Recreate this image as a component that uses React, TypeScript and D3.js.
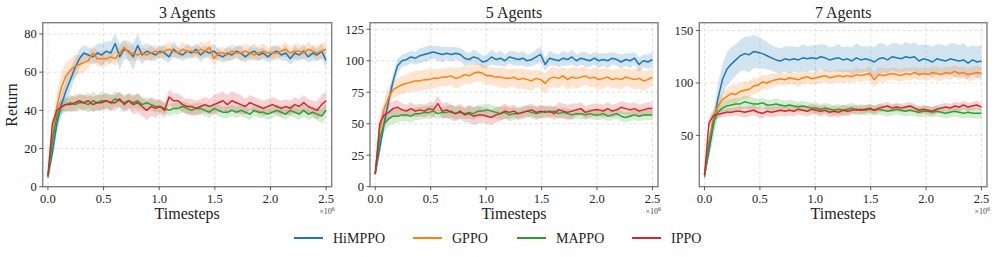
import React from 'react';
import * as d3 from 'd3';

// shared timestep grid (x in units of 1e6)
const steps = d3.range(63).map((i) => (i * 2.5) / 62);

const methods = ['HiMPPO', 'GPPO', 'MAPPO', 'IPPO'];
const colors = ['#1f77b4', '#ff7f0e', '#2ca02c', '#d62728'];
const titles = ['3 Agents', '5 Agents', '7 Agents'];
const xTicks = [0, 0.5, 1.0, 1.5, 2.0, 2.5];

// ---- 3 agents ----
const a3HiMPPO = [5, 18, 33, 43, 50, 56, 62, 67, 70, 69, 68, 70, 69, 71, 70, 75, 68, 72, 71, 68, 74, 69, 71, 70, 69, 71, 70, 68, 72, 70, 69, 71, 70, 72, 69, 71, 70, 71, 69, 68, 70, 69, 71, 70, 68, 70, 71, 69, 70, 68, 70, 71, 69, 70, 67, 70, 69, 71, 68, 70, 69, 71, 66];
const a3GPPO = [5, 26, 42, 52, 58, 61, 63, 64, 65, 66, 70, 67, 67, 67, 68, 67, 70, 73, 70, 70, 69, 70, 69, 70, 71, 70, 71, 72, 71, 70, 72, 71, 71, 70, 72, 71, 73, 67, 70, 70, 69, 71, 70, 70, 71, 70, 69, 70, 71, 70, 70, 70, 71, 72, 70, 71, 71, 70, 72, 71, 70, 71, 72];
const a3MAPPO = [5, 24, 37, 42, 43, 44, 43, 44, 44, 43, 45, 44, 45, 45, 44, 46, 45, 44, 45, 44, 45, 43, 44, 43, 42, 42, 41, 40, 41, 41, 42, 41, 40, 41, 41, 40, 39, 41, 40, 39, 39, 40, 39, 40, 39, 38, 40, 39, 39, 38, 39, 40, 39, 38, 40, 39, 38, 40, 38, 39, 38, 37, 40];
const a3IPPO = [6, 33, 40, 42, 43, 43, 44, 45, 44, 45, 43, 44, 44, 45, 44, 44, 46, 43, 45, 43, 44, 42, 40, 42, 41, 42, 40, 47, 45, 45, 43, 42, 42, 41, 42, 43, 42, 43, 44, 45, 43, 45, 44, 43, 42, 44, 43, 42, 41, 42, 43, 42, 41, 42, 41, 43, 42, 44, 42, 41, 40, 43, 45];
const a3HiMPPOStd = [1, 4, 5, 6, 6, 6, 5, 5, 4, 4, 4, 5, 6, 5, 6, 5, 7, 5, 5, 7, 6, 5, 4, 4, 3, 3, 4, 3, 4, 3, 3, 4, 3, 3, 4, 3, 3, 4, 3, 3, 4, 3, 3, 4, 3, 3, 4, 3, 3, 3, 4, 3, 3, 4, 3, 4, 3, 4, 3, 4, 3, 4, 4];
const a3GPPOStd = [1, 5, 7, 8, 7, 6, 6, 5, 5, 4, 4, 4, 4, 4, 3, 4, 4, 3, 4, 4, 3, 3, 3, 4, 3, 3, 3, 4, 3, 3, 4, 3, 3, 3, 4, 4, 4, 4, 3, 3, 3, 4, 3, 4, 4, 4, 3, 4, 4, 3, 3, 4, 3, 4, 3, 4, 4, 3, 4, 3, 4, 4, 4];
const a3MAPPOStd = [1, 4, 5, 4, 4, 4, 4, 4, 4, 4, 5, 4, 5, 4, 4, 4, 4, 4, 4, 3, 4, 3, 3, 3, 3, 3, 3, 3, 3, 3, 3, 3, 3, 3, 3, 3, 3, 3, 3, 3, 3, 3, 3, 3, 3, 3, 3, 3, 3, 3, 3, 3, 3, 3, 3, 3, 3, 3, 3, 3, 3, 4, 4];
const a3IPPOStd = [1, 3, 3, 3, 3, 4, 4, 4, 4, 4, 4, 4, 4, 4, 4, 4, 4, 4, 4, 5, 5, 5, 5, 5, 5, 4, 4, 4, 4, 4, 4, 4, 4, 4, 4, 4, 4, 5, 5, 5, 5, 5, 5, 5, 4, 4, 4, 4, 4, 4, 4, 4, 4, 4, 4, 4, 4, 4, 4, 4, 5, 5, 5];

// ---- 5 agents ----
const a5HiMPPO = [10, 30, 50, 68, 84, 96, 100, 101, 103, 102, 104, 105, 106, 107, 106, 105, 106, 105, 106, 105, 102, 101, 103, 102, 99, 100, 103, 101, 102, 100, 103, 102, 101, 102, 100, 101, 103, 105, 97, 102, 101, 100, 102, 101, 103, 100, 102, 101, 100, 102, 100, 101, 100, 102, 101, 99, 101, 100, 102, 97, 100, 99, 101];
const a5GPPO = [10, 45, 62, 71, 77, 79, 81, 82, 83, 84, 84, 85, 85, 86, 86, 87, 87, 88, 86, 87, 89, 88, 90, 91, 90, 88, 88, 87, 87, 86, 86, 87, 85, 86, 85, 84, 86, 85, 82, 86, 87, 86, 88, 85, 87, 86, 87, 88, 86, 87, 85, 86, 87, 85, 86, 85, 87, 86, 85, 86, 84, 85, 87];
const a5MAPPO = [10, 38, 50, 54, 56, 56, 57, 57, 56, 58, 58, 59, 59, 60, 58, 59, 59, 60, 58, 59, 58, 59, 58, 60, 60, 61, 60, 59, 58, 59, 57, 58, 58, 59, 60, 59, 58, 59, 60, 59, 60, 58, 59, 58, 57, 58, 58, 57, 58, 57, 57, 58, 56, 57, 58, 56, 55, 56, 57, 56, 57, 57, 57];
const a5IPPO = [10, 50, 57, 59, 62, 63, 61, 60, 62, 60, 61, 60, 62, 61, 66, 60, 61, 59, 58, 60, 57, 58, 56, 57, 57, 56, 55, 57, 58, 60, 59, 60, 58, 59, 60, 61, 59, 60, 59, 60, 58, 61, 60, 59, 60, 61, 62, 59, 60, 61, 61, 60, 62, 60, 61, 63, 62, 61, 62, 60, 61, 62, 62];
const a5HiMPPOStd = [1, 5, 6, 6, 6, 6, 5, 5, 5, 5, 6, 6, 6, 5, 6, 6, 5, 6, 5, 5, 6, 5, 6, 5, 5, 5, 6, 5, 6, 5, 5, 6, 5, 6, 5, 5, 6, 6, 5, 6, 5, 5, 6, 5, 6, 5, 5, 6, 5, 5, 6, 5, 6, 5, 5, 6, 5, 6, 5, 6, 5, 6, 6];
const a5GPPOStd = [1, 6, 8, 8, 7, 7, 7, 7, 8, 8, 8, 8, 8, 8, 7, 7, 7, 7, 8, 8, 7, 7, 7, 7, 7, 7, 7, 7, 8, 8, 7, 7, 8, 8, 8, 8, 7, 7, 8, 8, 8, 8, 7, 8, 8, 8, 8, 7, 7, 8, 8, 8, 7, 7, 8, 8, 7, 7, 8, 8, 8, 7, 7];
const a5MAPPOStd = [1, 5, 6, 6, 6, 5, 5, 5, 5, 5, 5, 5, 5, 5, 4, 4, 5, 5, 5, 5, 4, 5, 5, 5, 5, 5, 5, 5, 5, 5, 5, 5, 4, 4, 4, 5, 5, 5, 4, 4, 4, 4, 4, 4, 4, 4, 4, 4, 4, 4, 4, 4, 4, 4, 4, 4, 4, 4, 4, 4, 4, 4, 4];
const a5IPPOStd = [1, 6, 7, 7, 6, 6, 5, 5, 5, 5, 5, 5, 5, 6, 6, 6, 6, 6, 6, 6, 6, 7, 7, 7, 6, 6, 6, 6, 6, 6, 5, 5, 5, 5, 5, 5, 5, 5, 5, 5, 5, 6, 6, 6, 6, 5, 5, 5, 5, 5, 5, 5, 5, 5, 5, 5, 5, 5, 5, 5, 5, 5, 5];

// ---- 7 agents ----
const a7HiMPPO = [12, 35, 60, 85, 103, 113, 118, 122, 126, 128, 127, 130, 129, 128, 126, 124, 122, 121, 123, 122, 123, 122, 124, 123, 124, 123, 125, 124, 122, 123, 124, 122, 123, 121, 124, 122, 123, 122, 120, 123, 124, 122, 125, 124, 123, 125, 124, 125, 121, 123, 122, 120, 123, 122, 121, 123, 122, 121, 122, 119, 122, 120, 121];
const a7GPPO = [12, 45, 67, 78, 84, 87, 90, 89, 92, 93, 94, 97, 98, 101, 100, 102, 103, 104, 103, 105, 104, 103, 105, 106, 104, 105, 106, 107, 105, 106, 107, 106, 107, 106, 108, 107, 108, 109, 103, 108, 107, 108, 109, 108, 107, 109, 108, 110, 108, 109, 108, 110, 109, 108, 110, 109, 111, 109, 110, 108, 109, 110, 109];
const a7MAPPO = [10, 40, 63, 72, 76, 78, 79, 80, 80, 82, 81, 80, 80, 81, 79, 79, 80, 79, 78, 79, 78, 77, 78, 77, 76, 76, 75, 76, 75, 74, 75, 74, 75, 76, 74, 75, 74, 75, 74, 75, 74, 73, 74, 75, 74, 73, 74, 73, 72, 73, 73, 72, 73, 72, 71, 72, 73, 72, 71, 72, 71, 71, 71];
const a7IPPO = [12, 62, 69, 70, 71, 72, 72, 73, 73, 72, 73, 74, 72, 71, 73, 72, 73, 74, 73, 74, 73, 75, 74, 73, 75, 74, 73, 74, 72, 73, 72, 74, 73, 74, 75, 74, 75, 76, 74, 76, 77, 78, 76, 77, 76, 77, 78, 76, 74, 75, 74, 73, 75, 76, 77, 76, 78, 77, 79, 77, 78, 79, 77];
const a7HiMPPOStd = [2, 8, 12, 14, 15, 16, 16, 15, 15, 16, 17, 16, 15, 14, 13, 12, 12, 12, 12, 13, 12, 12, 13, 12, 12, 13, 12, 13, 12, 12, 13, 12, 12, 13, 14, 13, 12, 13, 14, 15, 14, 13, 13, 14, 13, 14, 13, 14, 15, 14, 14, 15, 14, 15, 14, 15, 16, 15, 16, 15, 14, 15, 15];
const a7GPPOStd = [2, 6, 8, 8, 7, 8, 9, 9, 8, 8, 8, 8, 7, 7, 7, 7, 6, 6, 6, 6, 6, 7, 6, 6, 6, 6, 6, 6, 6, 6, 6, 6, 6, 6, 6, 6, 6, 7, 7, 7, 7, 6, 6, 6, 6, 6, 6, 6, 6, 6, 6, 6, 7, 6, 6, 6, 6, 6, 6, 6, 7, 6, 6];
const a7MAPPOStd = [2, 6, 7, 6, 6, 6, 6, 6, 6, 6, 6, 6, 5, 5, 5, 5, 5, 5, 5, 5, 5, 5, 5, 5, 5, 5, 5, 5, 5, 5, 5, 5, 5, 5, 5, 5, 5, 5, 5, 5, 5, 5, 5, 5, 5, 5, 5, 5, 5, 5, 5, 5, 5, 5, 5, 5, 5, 5, 5, 5, 5, 5, 5];
const a7IPPOStd = [2, 5, 5, 4, 4, 4, 4, 4, 5, 5, 5, 5, 5, 5, 5, 5, 5, 5, 5, 5, 5, 5, 5, 5, 5, 5, 5, 5, 5, 5, 5, 5, 5, 4, 4, 4, 4, 4, 4, 4, 4, 4, 4, 4, 4, 4, 4, 4, 4, 4, 4, 4, 4, 4, 4, 4, 4, 4, 4, 4, 4, 4, 4];

const yTicks3 = [0, 20, 40, 60, 80];
const yTicks5 = [0, 25, 50, 75, 100, 125];
const yTicks7 = [50, 100, 150];

const panels = [
  { left: 42.7, right: 331.7, yDomain: [0, 85.9], yTicks: yTicks3,
    means: [a3HiMPPO, a3GPPO, a3MAPPO, a3IPPO], stds: [a3HiMPPOStd, a3GPPOStd, a3MAPPOStd, a3IPPOStd] },
  { left: 370, right: 658, yDomain: [0, 130.2], yTicks: yTicks5,
    means: [a5HiMPPO, a5GPPO, a5MAPPO, a5IPPO], stds: [a5HiMPPOStd, a5GPPOStd, a5MAPPOStd, a5IPPOStd] },
  { left: 699.3, right: 987, yDomain: [1, 157.5], yTicks: yTicks7,
    means: [a7HiMPPO, a7GPPO, a7MAPPO, a7IPPO], stds: [a7HiMPPOStd, a7GPPOStd, a7MAPPOStd, a7IPPOStd] },
];

const TOP = 22.7;
const BOTTOM = 186.7;
const FONT = '"Liberation Serif", "DejaVu Serif", serif';

function Panel({ p, title }: { p: any; title: string }) {
  const x = d3.scaleLinear().domain([-0.047, 2.55]).range([p.left, p.right]);
  const y = d3.scaleLinear().domain(p.yDomain).range([BOTTOM, TOP]);
  const line = d3.line<number>().x((_, i) => x(steps[i])).y((d) => y(d));
  const clipId = 'clip-' + title.replace(' ', '');

  return (
    <g>
      <defs>
        <clipPath id={clipId}>
          <rect x={p.left} y={TOP} width={p.right - p.left} height={BOTTOM - TOP} />
        </clipPath>
      </defs>
      {/* grid */}
      {xTicks.map((t) => (
        <line key={'gx' + t} x1={x(t)} x2={x(t)} y1={TOP} y2={BOTTOM}
          stroke="#d9d9d9" strokeWidth={0.8} strokeDasharray="3,2.5" />
      ))}
      {p.yTicks.map((t: number) => (
        <line key={'gy' + t} x1={p.left} x2={p.right} y1={y(t)} y2={y(t)}
          stroke="#d9d9d9" strokeWidth={0.8} strokeDasharray="3,2.5" />
      ))}
      <g clipPath={`url(#${clipId})`}>
        {p.means.map((m: number[], k: number) => {
          const area = d3.area<number>()
            .x((_, i) => x(steps[i]))
            .y0((d, i) => y(d - p.stds[k][i]))
            .y1((d, i) => y(d + p.stds[k][i]));
          return <path key={'a' + k} d={area(m) || ''} fill={colors[k]} fillOpacity={0.2} stroke="none" />;
        })}
        {p.means.map((m: number[], k: number) => (
          <path key={'l' + k} d={line(m) || ''} fill="none" stroke={colors[k]} strokeWidth={1.5} strokeLinejoin="round" />
        ))}
      </g>
      {/* frame */}
      <rect x={p.left} y={TOP} width={p.right - p.left} height={BOTTOM - TOP}
        fill="none" stroke="#808080" strokeWidth={1.4} />
      {/* x ticks */}
      {xTicks.map((t) => (
        <g key={'xt' + t}>
          <line x1={x(t)} x2={x(t)} y1={BOTTOM} y2={BOTTOM + 3.5} stroke="#333" strokeWidth={0.8} />
          <text x={x(t)} y={BOTTOM + 16} textAnchor="middle" fontFamily={FONT} fontSize={12.5} fill="#222">
            {t.toFixed(1)}
          </text>
        </g>
      ))}
      {p.yTicks.map((t: number) => (
        <g key={'yt' + t}>
          <line x1={p.left - 3.5} x2={p.left} y1={y(t)} y2={y(t)} stroke="#333" strokeWidth={0.8} />
          <text x={p.left - 6} y={y(t) + 4.3} textAnchor="end" fontFamily={FONT} fontSize={12.5} fill="#222">
            {t}
          </text>
        </g>
      ))}
      <text x={(p.left + p.right) / 2} y={18} textAnchor="middle" fontFamily={FONT} fontSize={16} fill="#222">
        {title}
      </text>
      <text x={(p.left + p.right) / 2} y={219} textAnchor="middle" fontFamily={FONT} fontSize={16} fill="#222">
        Timesteps
      </text>
      <text x={p.right + 3} y={214} textAnchor="end" fontFamily={FONT} fontSize={8} fill="#444">
        ×10<tspan dy={-3} fontSize={6}>6</tspan>
      </text>
    </g>
  );
}

const legendX = [294, 413, 517, 632];

export default function App() {
  return (
    <svg width={997} height={257} style={{ position: 'absolute', left: 0, top: 0, background: '#fff' }}>
      <rect width={997} height={257} fill="#fff" />
      {panels.map((p, i) => (
        <Panel key={i} p={p} title={titles[i]} />
      ))}
      <text transform="translate(17,105) rotate(-90)" textAnchor="middle" fontFamily={FONT} fontSize={16} fill="#222">
        Return
      </text>
      {methods.map((m, i) => (
        <g key={m}>
          <line x1={legendX[i]} x2={legendX[i] + 29} y1={238} y2={238} stroke={colors[i]} strokeWidth={2} />
          <text x={legendX[i] + 39} y={242.5} fontFamily={FONT} fontSize={14} fill="#222">{m}</text>
        </g>
      ))}
    </svg>
  );
}
